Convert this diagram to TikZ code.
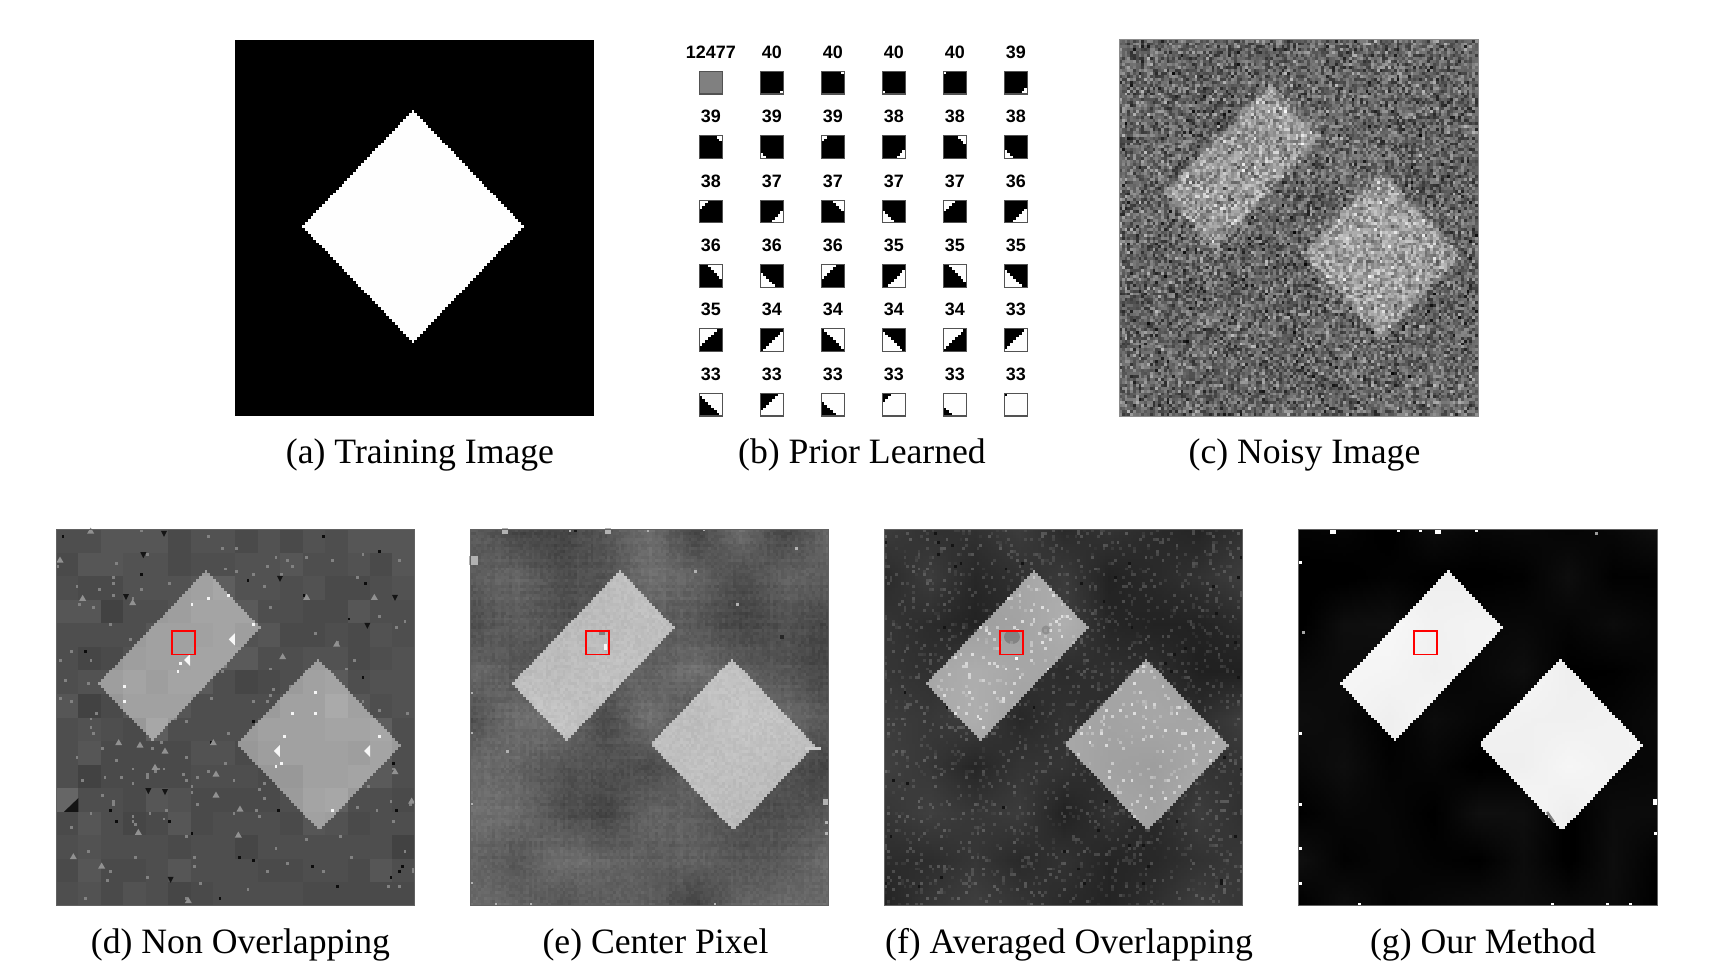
\documentclass[tikz,border=0pt]{standalone}
\usepackage{fontspec}
\setmainfont{Liberation Serif}
\newfontfamily\lblfont{Liberation Sans}
\makeatletter
\newcount\kI \newcount\kJ \newcount\kV \newcount\kS \newcount\kD \newcount\kM
\newcount\kN \newcount\kR \newcount\kX \newcount\kY \newcount\kT \newcount\kU
\newcount\kSize \newcount\kA \newcount\kB \newcount\kE \newcount\kF \newcount\kC \newcount\kH
\global\kX=12345 \global\kY=23456
\def\nextrand{\global\kX=\numexpr\kX*171-30269*((\kX*342-30268)/60538)\relax
  \global\kY=\numexpr\kY*172-30307*((\kY*344-30306)/60614)\relax
  \global\kR=\numexpr\kX+\kY\relax \ifnum\kR>30268 \global\advance\kR-30269 \fi}
\def\rowloop{\ifnum\kI<\kSize \pixfn
  \ifnum\kV>254 \kV=254 \fi \ifnum\kV<0 \kV=0 \fi
  \edef\rowbuf{\rowbuf.\expandafter\@gobble\number\numexpr1000+\kV*1000/255\relax\space g \the\kI\space\the\kJ\space 1.1 1.1 re f }%
  \advance\kI 1 \expandafter\rowloop\fi}
\def\rowsloop{\ifnum\kJ<\kSize \kI=0 \def\rowbuf{}\rowloop
  \pgfsys@invoke{q \sxv\space 0 0 -\syv\space \Xv\space -\Yv\space cm \rowbuf Q }%
  \advance\kJ 1 \expandafter\rowsloop\fi}
% #1 size, #2 sx, #3 sy, #4 X, #5 Y, #6 pixel function
\def\runpanel#1#2#3#4#5#6{\csname pgfsysprotocol@flushcurrentprotocol\endcsname
  \kSize=#1 \def\sxv{#2}\def\syv{#3}\edef\Xv{#4}\edef\Yv{#5}\let\pixfn=#6\kJ=0 \rowsloop}
% masks
\def\minfour#1#2#3#4{\kT=\numexpr#1\relax
  \kU=\numexpr#2\relax \ifnum\kU<\kT \kT=\kU\fi
  \kU=\numexpr#3\relax \ifnum\kU<\kT \kT=\kU\fi
  \kU=\numexpr#4\relax \ifnum\kU<\kT \kT=\kU\fi}
\def\computemask{\kS=\numexpr\kI+\kJ\relax \kD=\numexpr\kI-\kJ\relax
  \minfour{\kS-67}{105-\kS}{\kD+37}{39-\kD}\kM=\kT
  \minfour{\kS-137}{195-\kS}{\kD+8}{49-\kD}\ifnum\kT>\kM \kM=\kT\fi}
% lattice noise
\def\initlat{\foreach\a in {0,...,9}{\foreach\b in {0,...,9}{\nextrand
  \expandafter\xdef\csname L\a.\b\endcsname{\number\numexpr\kR*200/30310-100\relax}}}}
\def\blot{\kA=\numexpr(2*\kI-15)/32\relax \kB=\numexpr(2*\kJ-15)/32\relax
  \kE=\numexpr\kI-16*\kA\relax \kF=\numexpr\kJ-16*\kB\relax
  \kN=\numexpr((16-\kE)*(16-\kF)*\csname L\number\kA.\number\kB\endcsname
   +\kE*(16-\kF)*\csname L\number\numexpr\kA+1\relax.\number\kB\endcsname
   +(16-\kE)*\kF*\csname L\number\kA.\number\numexpr\kB+1\relax\endcsname
   +\kE*\kF*\csname L\number\numexpr\kA+1\relax.\number\numexpr\kB+1\relax\endcsname)/256\relax}
% pixel functions
\def\fnA{\kS=\numexpr\kI+\kJ\relax \kD=\numexpr\kI-\kJ\relax
  \minfour{\kS-87}{165-\kS}{\kD+39}{39-\kD}\ifnum\kT<0 \kV=0 \else\kV=254 \fi}
\def\fnC{\computemask\blot
  \kT=\numexpr\kM+1\relax \ifnum\kT<0 \kT=0 \fi \ifnum\kT>3 \kT=3 \fi
  \kV=\numexpr100+56*\kT/3+\kN*6/100\relax
  \nextrand\kU=\numexpr\kR*100/30310\relax
  \nextrand\advance\kU\numexpr\kR*100/30310\relax
  \nextrand\advance\kU\numexpr\kR*100/30310\relax
  \nextrand\advance\kU\numexpr\kR*100/30310\relax
  \advance\kV\numexpr(\kU-198)*31/58\relax}
\def\fnD{\computemask
  \kA=\numexpr(2*\kI-7)/16\relax \kB=\numexpr(2*\kJ-7)/16\relax
  \kT=\csname B\number\kB.\number\kA\endcsname\relax
  \nextrand
  \ifnum\kM<0
    \kV=\numexpr62+\kT*4\relax
    \ifnum\kR<370 \kV=130 \fi
    \ifnum\kR<50 \kV=12 \fi
  \else
    \kV=\numexpr143+\kT*3\relax
    \ifnum\kR<150 \kV=245 \fi
  \fi}
\def\fnE{\computemask\blot
  \nextrand\kU=\numexpr\kR*12/30310-6\relax
  \ifnum\kM<0
    \kV=\numexpr90+\kN*24/100+(\csname Rw\number\kJ\endcsname+\csname Cl\number\kI\endcsname)/2+\kU\relax
  \else
    \kV=\numexpr190+\kN*7/100+\kU\relax
  \fi}
\def\fnF{\computemask\blot
  \nextrand
  \ifnum\kM<0
    \kV=\numexpr48+\kN*16/100\relax
    \ifnum\kR<3600 \advance\kV\numexpr6+\kR*34/3600\relax \fi
    \ifnum\kR>30150 \kV=20 \fi
  \else
    \kV=\numexpr166+\kN*9/100\relax
    \ifnum\kR<2600 \advance\kV\numexpr8+\kR*50/2600\relax \fi
  \fi}
\def\fnG{\computemask\blot
  \ifnum\kM<0
    \kV=\numexpr7+\kN*9/100\relax
  \else
    \kV=\numexpr243+\kN*5/100\relax
  \fi}
\def\fnP{\ifcase\kC \kT=\numexpr\kI+\kJ\relax
   \or \kT=\numexpr7-\kI+\kJ\relax
   \or \kT=\numexpr\kI+7-\kJ\relax
   \or \kT=\numexpr14-\kI-\kJ\relax
   \or \kT=-1 \fi
  \ifnum\kC=4 \kV=128 \else \ifnum\kT<\kH \kV=254 \else \kV=0 \fi\fi}
\def\setblock#1#2{\kA=0 \@tfor\dd:=#2\do{\expandafter\xdef\csname B#1.\number\kA\endcsname{\dd}\advance\kA 1 }}
\setblock{0}{4466635535354666}
\setblock{1}{3665534455644536}
\setblock{2}{4335556855453345}
\setblock{3}{6614457774433644}
\setblock{4}{4444666756334354}
\setblock{5}{4235667774455345}
\setblock{6}{4557577423467455}
\setblock{7}{6136664444669645}
\setblock{8}{4543844446667784}
\setblock{9}{4633335535666574}
\setblock{10}{4133334443366774}
\setblock{11}{6443653333478443}
\setblock{12}{3642363444365344}
\setblock{13}{4544434424444441}
\setblock{14}{3633464443344364}
\setblock{15}{4535423444433333}
\foreach\a in {0,...,127}{\nextrand
  \expandafter\xdef\csname Rw\a\endcsname{\number\numexpr\kR*12/30310-6\relax}\nextrand
  \expandafter\xdef\csname Cl\a\endcsname{\number\numexpr\kR*10/30310-5\relax}}
\def\runpatch#1#2#3#4#5{\kC=#3 \kH=#4 \runpanel{8}{2.875}{2.84}{#1}{#2}{\fnP}}
\makeatother
\newcommand\priorcell[5]{%
  \pgfmathsetmacro\pX{699.3+61*#1}\pgfmathsetmacro\pY{71.3+64.4*#2}%
  \runpatch{\pX}{\pY}{#4}{#5}{}%
  \draw[patchframe] (\pX,\pY) rectangle ++(23,22.7);
  \node[cntlabel] (lab#1x#2) at ({\pX+11.5},{\pY-19.2}) {#3};
}
\tikzset{
  panelframe/.style={draw=black!62,line width=0.9bp},
  patchframe/.style={draw=black!68,line width=1.1bp},
  redbox/.style={draw=red,line width=1.7bp},
  caption/.style={anchor=base,inner sep=0pt,font=\fontsize{35.8}{42}\selectfont},
  cntlabel/.style={inner sep=0pt,font=\lblfont\bfseries\fontsize{18}{20}\selectfont}
}
\begin{document}
\begin{tikzpicture}[x=1bp,y=-1bp]
\fill[white] (0,0) rectangle (1710,972);
\useasboundingbox (0,0) rectangle (1710,972);
% (a)
\runpanel{128}{2.803}{2.941}{235}{39.6}{\fnA}
% (c)
\initlat
\runpanel{128}{2.803}{2.941}{1119}{39.6}{\fnC}
\draw[panelframe,draw=black!45] (1119,39.6) rectangle (1478,416);
% (d)
\runpanel{128}{2.803}{2.941}{56}{529.3}{\fnD}
\foreach \zx/\zy in {60/120,152/33,128/235,278/248,800/232,1003/232,890/372,728/410,1115/843,528/762,528/825,375/693,345/742,300/675,236/668,520/668,100/1010,185/1038,295/937,600/867,1065/755,445/1142,595/945}
  \fill[black!43] ({40+\zx/3-3.5},{520+\zy/3+2.5}) -- ++(7,0) -- ++(-3.5,-6) -- cycle;
\foreach \zx/\zy in {372/40,720/175,258/230,310/104,1065/232,982/316,375/815,325/812,392/1078}
  \fill[black!92] ({40+\zx/3-3},{520+\zy/3-2.5}) -- ++(6,0) -- ++(-3,6) -- cycle;
\foreach \zx/\zy in {577/358,443/420,983/693,712/693}
  \fill[black!3] ({40+\zx/3+2.5},{520+\zy/3-6}) -- ++(0,12) -- ++(-6,-6) -- cycle;
\fill[black!60] (56,788) rectangle (78.4,811.8);
\fill[black!92] (64,811.8) -- (78.4,798) -- (78.4,811.8) -- cycle;
\draw[panelframe] (56,529.3) rectangle (414.8,905.7);
% (e)
\initlat
\runpanel{128}{2.803}{2.941}{470}{529.3}{\fnE}
\foreach \zx/\zy/\s in {40/120/9,135/33/6,1097/845/6,707/155/3,832/253/3,143/693/3,36/518/2,36/640/2,36/853/2,36/1090/2,765/1152/2,108/1152/2,212/1152/2,330/33/2,445/33/6,565/33/2,733/30/2,1010/85/3,1100/908/3,1100/940/3}
  \fill[black!30] ({460+\zx/3-\s/2},{520+\zy/3-\s/2}) rectangle ++(\s,\s);
\fill[black!90] (574,529.3) rectangle ++(3,3);
\fill[black!85] (780,635) rectangle ++(4,4);
\fill[black!20] (805,747) -- (821,747) -- (821,750) -- (805,750) -- cycle;
\fill[black!3] (607,644) rectangle ++(-3,6);
\fill[black!50] (599,632) rectangle ++(6,3);
\draw[panelframe] (470,529.3) rectangle (828.8,905.7);
% (f)
\initlat
\runpanel{128}{2.803}{2.941}{884}{529.3}{\fnF}
\fill[black,opacity=0.2] (1012,637) ellipse (8 and 7);
\fill[black,opacity=0.15] (1046,630) circle (4.5);
\fill[white] (1014.5,657) rectangle ++(3,3);
\draw[panelframe] (884,529.3) rectangle (1242.8,905.7);
% (g)
\initlat
\runpanel{128}{2.803}{2.941}{1298.3}{529.3}{\fnG}
\foreach \zx/\zy/\s in {31/127/3,31/640/3,31/853/3,31/985/3,31/1090/3,208/1152/3,787/1152/3,953/1152/3,1020/1152/3,1097/845/6,1097/940/3,130/32/6,325/32/3,390/32/3,443/32/6,558/32/3}
  \fill[white] ({1290+\zx/3-\s/2},{520+\zy/3-\s/2}) rectangle ++(\s,\s);
\fill[black!35] (1302,631) rectangle ++(3,3);
\fill[black!40] (1595,532) rectangle ++(3,3);
\draw[black!50,line width=2.5bp] (1547,812) -- (1554,822);
\draw[panelframe] (1298.3,529.3) rectangle (1657,905.7);
% red squares
\draw[redbox] (172.3,630.9) rectangle (195.3,654.5);
\draw[redbox] (586.2,630.9) rectangle (609,654.5);
\draw[redbox] (1000.3,630.9) rectangle (1023,654.5);
\draw[redbox] (1414.3,630.9) rectangle (1437,654.5);
% (b)
\priorcell{0}{0}{12477}{4}{0}\priorcell{1}{0}{40}{3}{1}\priorcell{2}{0}{40}{1}{1}\priorcell{3}{0}{40}{2}{1}\priorcell{4}{0}{40}{0}{1}\priorcell{5}{0}{39}{3}{2}
\priorcell{0}{1}{39}{1}{2}\priorcell{1}{1}{39}{2}{2}\priorcell{2}{1}{39}{0}{2}\priorcell{3}{1}{38}{3}{3}\priorcell{4}{1}{38}{1}{3}\priorcell{5}{1}{38}{2}{3}
\priorcell{0}{2}{38}{0}{3}\priorcell{1}{2}{37}{3}{4}\priorcell{2}{2}{37}{1}{4}\priorcell{3}{2}{37}{2}{4}\priorcell{4}{2}{37}{0}{4}\priorcell{5}{2}{36}{3}{5}
\priorcell{0}{3}{36}{1}{5}\priorcell{1}{3}{36}{2}{5}\priorcell{2}{3}{36}{0}{5}\priorcell{3}{3}{35}{3}{6}\priorcell{4}{3}{35}{1}{6}\priorcell{5}{3}{35}{2}{6}
\priorcell{0}{4}{35}{0}{6}\priorcell{1}{4}{34}{3}{7}\priorcell{2}{4}{34}{1}{7}\priorcell{3}{4}{34}{2}{7}\priorcell{4}{4}{34}{0}{7}\priorcell{5}{4}{33}{3}{8}
\priorcell{0}{5}{33}{1}{8}\priorcell{1}{5}{33}{3}{9}\priorcell{2}{5}{33}{1}{10}\priorcell{3}{5}{33}{3}{12}\priorcell{4}{5}{33}{1}{12}\priorcell{5}{5}{33}{3}{14}
% captions
\node[caption] (capa) at (420,463.5) {(a) Training Image};
\node[caption] (capb) at (862,463.5) {(b) Prior Learned};
\node[caption] (capc) at (1304.5,463.5) {(c) Noisy Image};
\node[caption] (capd) at (240.5,953.5) {(d) Non Overlapping};
\node[caption] (cape) at (655.5,953.5) {(e) Center Pixel};
\node[caption] (capf) at (1069,953.5) {(f) Averaged Overlapping};
\node[caption] (capg) at (1483,953.5) {(g) Our Method};
\end{tikzpicture}
\end{document}
